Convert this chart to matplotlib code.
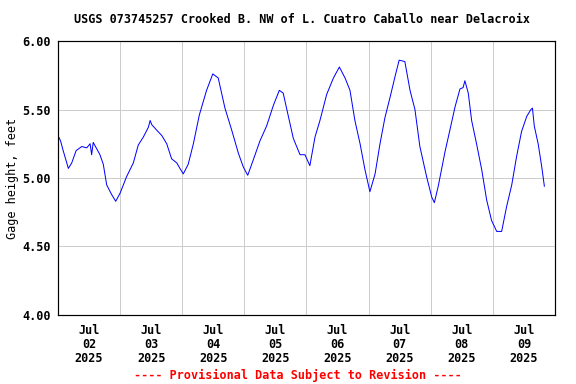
import matplotlib
matplotlib.use('Agg')
from matplotlib import pyplot as plt
import numpy as np
import pandas as pd

# hours after 2025-07-02 00:00 and gage height (ft)
hours = [0, 1.0, 2.0, 4.0, 5.3, 7.0, 9.2, 11.1, 12.4, 13.0, 13.6, 16.2, 17.5, 18.8,
         20.7, 22.3, 24.0, 26.5, 29.1, 31.0, 33.0, 34.9, 35.6, 36.2, 38.1, 40.1,
         42.0, 43.9, 45.9, 47.1, 48.4, 50.3, 52.3, 54.6, 57.4, 59.8, 61.9, 64.5,
         67.1, 69.7, 71.6, 73.3, 75.4, 78.0, 80.6, 83.2, 85.5, 87.0, 89.0, 90.9,
         93.5, 95.4, 97.3, 99.3, 101.2, 103.8, 106.4, 108.7, 110.9, 112.8, 114.7,
         116.7, 118.6, 120.5, 122.5, 124.4, 126.3, 128.3, 130.2, 131.8, 134.0,
         136.0, 137.9, 139.8, 142.4, 144.4, 145.4, 146.9, 149.5, 151.4, 153.4,
         155.3, 156.5, 157.2, 158.5, 159.8, 161.7, 163.7, 165.6, 167.5, 169.5,
         171.4, 173.3, 175.3, 177.2, 179.1, 181.1, 182.7, 183.3, 184.0, 185.5,
         186.9, 187.9]
height = [5.31, 5.27, 5.20, 5.07, 5.11, 5.20, 5.23, 5.22, 5.25, 5.17, 5.26, 5.17, 5.10, 4.95,
          4.88, 4.83, 4.89, 5.01, 5.11, 5.24, 5.30, 5.37, 5.42, 5.39, 5.35, 5.31,
          5.25, 5.14, 5.11, 5.07, 5.03, 5.10, 5.25, 5.46, 5.64, 5.76, 5.73, 5.51,
          5.35, 5.18, 5.08, 5.02, 5.13, 5.27, 5.38, 5.53, 5.64, 5.62, 5.45, 5.29,
          5.17, 5.17, 5.09, 5.30, 5.42, 5.61, 5.73, 5.81, 5.73, 5.64, 5.42,
          5.25, 5.06, 4.90, 5.03, 5.25, 5.44, 5.59, 5.74, 5.86, 5.85,
          5.64, 5.50, 5.23, 5.01, 4.86, 4.82, 4.94, 5.19, 5.35, 5.52,
          5.65, 5.66, 5.71, 5.62, 5.42, 5.25, 5.06, 4.84, 4.69, 4.61,
          4.61, 4.79, 4.95, 5.16, 5.34, 5.45, 5.50, 5.51, 5.38, 5.25,
          5.08, 4.94]
yticks = [4.0, 4.5, 5.0, 5.5, 6.0]

start = pd.Timestamp('2025-07-02')
times = start + pd.to_timedelta(hours, unit='h')

plt.rcParams['font.family'] = 'DejaVu Sans Mono'
plt.rcParams['font.weight'] = 'bold'
plt.rcParams['font.size'] = 11.8

fig = plt.figure(figsize=(8, 16/3), dpi=72)
ax = fig.add_axes([0.1007, 0.1797, 0.8628, 0.7135])
ax.plot(times, height, color='#0000ff', lw=1)

ax.set_xlim(start, start + pd.Timedelta(days=8))
ax.set_ylim(4.0, 6.0)
ax.set_yticks(yticks)
ax.set_yticklabels(['%.2f' % v for v in yticks])

days = [start + pd.Timedelta(days=i) for i in range(1, 8)]
noons = [start + pd.Timedelta(days=i, hours=12) for i in range(8)]
ax.set_xticks(days)
ax.set_xticklabels([])
ax.set_xticks(noons, minor=True)
ax.set_xticklabels([d.strftime('%b\n%d\n%Y') for d in noons], minor=True,
                   linespacing=1.1)
ax.tick_params(axis='x', which='both', length=0, pad=9)
ax.tick_params(axis='y', which='both', length=0, pad=7)
ax.grid(True, which='major', color='#cccccc', lw=1)
for s in ax.spines.values():
    s.set_linewidth(1.2)

ax.set_ylabel('Gage height, feet', labelpad=4)
fig.text(0.525, 0.95, 'USGS 073745257 Crooked B. NW of L. Cuatro Caballo near Delacroix',
         ha='center', va='center')
fig.text(0.518, 0.023, '---- Provisional Data Subject to Revision ----',
         ha='center', va='center', color='#ff0000')

fig.savefig('out.png', dpi=72)
